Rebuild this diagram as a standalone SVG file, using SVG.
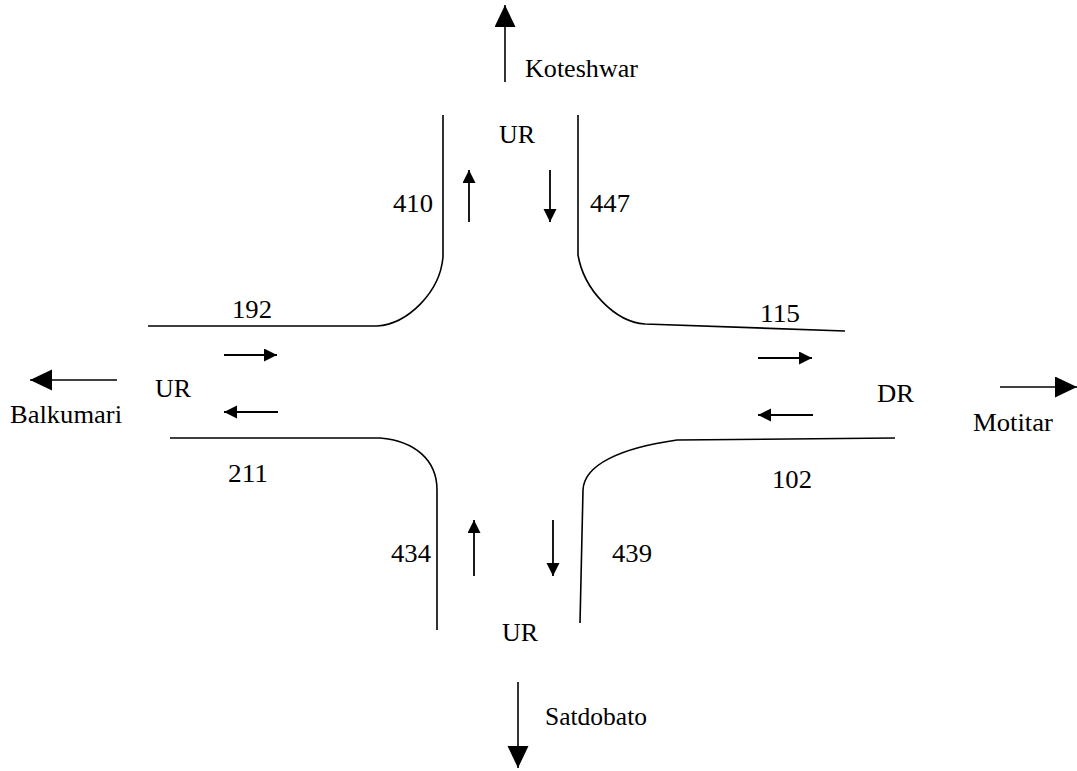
<svg xmlns="http://www.w3.org/2000/svg" width="1077" height="771" viewBox="0 0 1077 771">
<style>
.road{fill:none;stroke:#000;stroke-width:1.6}
.lane{fill:none;stroke:#000;stroke-width:1.8}
.dir{fill:none;stroke:#000;stroke-width:1.6}
text{font-family:"Liberation Serif","Times New Roman",serif;font-size:25px;fill:#000}
</style>
<defs>
<marker id="sm" markerUnits="userSpaceOnUse" markerWidth="14" markerHeight="14" refX="13" refY="6.5" orient="auto">
<path d="M0,0 L13,6.5 L0,13 z" fill="#000"/>
</marker>
<marker id="lg" markerUnits="userSpaceOnUse" markerWidth="24" markerHeight="22" refX="22" refY="10.5" orient="auto">
<path d="M0,0 L22,10.5 L0,21 z" fill="#000"/>
</marker>
</defs>
<rect width="1077" height="771" fill="#fff"/>
<g id="roads">
<path id="road-top-left" class="road" d="M443,115 L443,257 C440,292 408,324 377,326 L148,326"/>
<path id="road-top-right" class="road" d="M578,115 L578,255 C584,290 615,322 645,324 L845,331"/>
<path id="road-bottom-left" class="road" d="M170,438 L380,438 C415,441 437,460 437,490 L437,630"/>
<path id="road-bottom-right" class="road" d="M895,438 L677,440 C620,448 584,465 583,490 L580,623"/>
</g>
<g id="connectors">
<line class="dir" x1="505" y1="82" x2="505" y2="5" marker-end="url(#lg)"/>
<line class="dir" x1="117" y1="380" x2="30" y2="380" marker-end="url(#lg)"/>
<line class="dir" x1="1000" y1="387" x2="1077" y2="387" marker-end="url(#lg)"/>
<line class="dir" x1="518" y1="682" x2="518" y2="768" marker-end="url(#lg)"/>
<line class="lane" x1="469" y1="222" x2="469" y2="170" marker-end="url(#sm)"/>
<line class="lane" x1="550" y1="170" x2="550" y2="222" marker-end="url(#sm)"/>
<line class="lane" x1="224" y1="355" x2="277" y2="355" marker-end="url(#sm)"/>
<line class="lane" x1="278" y1="412" x2="224" y2="412" marker-end="url(#sm)"/>
<line class="lane" x1="758" y1="358" x2="812" y2="358" marker-end="url(#sm)"/>
<line class="lane" x1="813" y1="415" x2="758" y2="415" marker-end="url(#sm)"/>
<line class="lane" x1="474" y1="576" x2="474" y2="520" marker-end="url(#sm)"/>
<line class="lane" x1="553" y1="520" x2="553" y2="576" marker-end="url(#sm)"/>
</g>
<g id="node-north">
<text x="525" y="77" textLength="113" lengthAdjust="spacingAndGlyphs">Koteshwar</text>
<text x="499" y="143" textLength="36" lengthAdjust="spacingAndGlyphs">UR</text>
<text x="393" y="212" textLength="40" lengthAdjust="spacingAndGlyphs">410</text>
<text x="590" y="212" textLength="40" lengthAdjust="spacingAndGlyphs">447</text>
</g>
<g id="node-west">
<text x="232" y="318" textLength="40" lengthAdjust="spacingAndGlyphs">192</text>
<text x="155" y="397" textLength="36" lengthAdjust="spacingAndGlyphs">UR</text>
<text x="10" y="423" textLength="112" lengthAdjust="spacingAndGlyphs">Balkumari</text>
<text x="228" y="482" textLength="40" lengthAdjust="spacingAndGlyphs">211</text>
</g>
<g id="node-east">
<text x="760" y="322" textLength="40" lengthAdjust="spacingAndGlyphs">115</text>
<text x="877" y="402" textLength="37" lengthAdjust="spacingAndGlyphs">DR</text>
<text x="973" y="431" textLength="80" lengthAdjust="spacingAndGlyphs">Motitar</text>
<text x="772" y="488" textLength="40" lengthAdjust="spacingAndGlyphs">102</text>
</g>
<g id="node-south">
<text x="391" y="562" textLength="40" lengthAdjust="spacingAndGlyphs">434</text>
<text x="612" y="562" textLength="40" lengthAdjust="spacingAndGlyphs">439</text>
<text x="502" y="641" textLength="36" lengthAdjust="spacingAndGlyphs">UR</text>
<text x="545" y="725" textLength="102" lengthAdjust="spacingAndGlyphs">Satdobato</text>
</g>
</svg>
